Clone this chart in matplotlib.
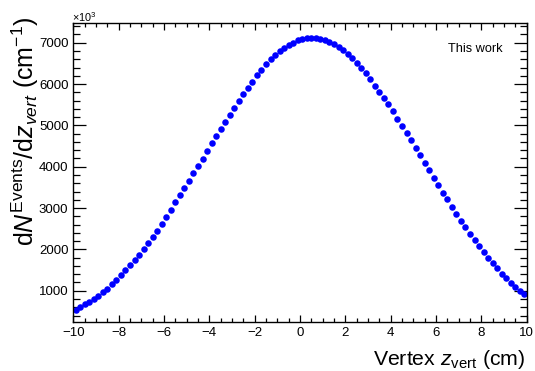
import numpy as np
import matplotlib
matplotlib.use("Agg")
import matplotlib.pyplot as plt
from matplotlib.ticker import MultipleLocator

plt.rcParams['font.family'] = ['Liberation Sans', 'DejaVu Sans']
plt.rcParams['mathtext.fontset'] = 'custom'
plt.rcParams['mathtext.rm'] = 'Liberation Sans'
plt.rcParams['mathtext.it'] = 'Liberation Sans:italic'
plt.rcParams['mathtext.bf'] = 'Liberation Sans:bold'

# bin centres (cm)
z_vert = [-9.9, -9.7, -9.5, -9.3, -9.1, -8.9, -8.7, -8.5, -8.3, -8.1,
          -7.9, -7.7, -7.5, -7.3, -7.1, -6.9, -6.7, -6.5, -6.3, -6.1,
          -5.9, -5.7, -5.5, -5.3, -5.1, -4.9, -4.7, -4.5, -4.3, -4.1,
          -3.9, -3.7, -3.5, -3.3, -3.1, -2.9, -2.7, -2.5, -2.3, -2.1,
          -1.9, -1.7, -1.5, -1.3, -1.1, -0.9, -0.7, -0.5, -0.3, -0.1,
          0.1, 0.3, 0.5, 0.7, 0.9, 1.1, 1.3, 1.5, 1.7, 1.9,
          2.1, 2.3, 2.5, 2.7, 2.9, 3.1, 3.3, 3.5, 3.7, 3.9,
          4.1, 4.3, 4.5, 4.7, 4.9, 5.1, 5.3, 5.5, 5.7, 5.9,
          6.1, 6.3, 6.5, 6.7, 6.9, 7.1, 7.3, 7.5, 7.7, 7.9,
          8.1, 8.3, 8.5, 8.7, 8.9, 9.1, 9.3, 9.5, 9.7, 9.9]

# dN/dz values (x10^3 per cm)
dN_dz = [545, 605, 667, 730, 805, 878, 965, 1050, 1158, 1262,
         1368, 1490, 1610, 1738, 1872, 2018, 2160, 2302, 2450, 2620,
         2790, 2958, 3138, 3307, 3490, 3655, 3845, 4015, 4190, 4376,
         4563, 4745, 4918, 5093, 5258, 5425, 5597, 5758, 5908, 6058,
         6212, 6343, 6480, 6595, 6710, 6800, 6880, 6950, 7005, 7055,
         7090, 7110, 7120, 7115, 7100, 7065, 7020, 6965, 6900, 6812,
         6718, 6630, 6520, 6393, 6265, 6112, 5960, 5815, 5670, 5518,
         5345, 5163, 4993, 4815, 4635, 4455, 4275, 4092, 3915, 3730,
         3550, 3375, 3208, 3035, 2865, 2698, 2532, 2373, 2218, 2072,
         1932, 1797, 1670, 1538, 1416, 1300, 1192, 1090, 1000, 913]

W, H = 535, 371
fig = plt.figure(figsize=(W / 100, H / 100), dpi=100)
ax = fig.add_axes([73.3 / W, 1 - 321.7 / H, (526.7 - 73.3) / W, (321.7 - 23.3) / H])

ax.plot(z_vert, dN_dz, linestyle='none', marker='o', markersize=4.7,
        color='#0000ff', markeredgewidth=0)

ax.set_xlim(-10, 10)
ax.set_ylim(250, 7470)

ax.xaxis.set_major_locator(MultipleLocator(2))
ax.xaxis.set_minor_locator(MultipleLocator(0.5))
ax.yaxis.set_major_locator(MultipleLocator(1000))
ax.yaxis.set_minor_locator(MultipleLocator(200))

ax.tick_params(axis='both', which='both', direction='in', top=True, right=True,
               width=0.9, colors='black', labelsize=9.5)
ax.tick_params(axis='x', which='major', length=5.0, pad=3.5)
ax.tick_params(axis='x', which='minor', length=2.6)
ax.tick_params(axis='y', which='major', length=9.5, pad=3.5)
ax.tick_params(axis='y', which='minor', length=5.0)
for s in ax.spines.values():
    s.set_linewidth(1.0)

fig.text(72.5 / W, 1 - 22.5 / H, r'$\times$10$^{3}$', fontsize=7.8,
         ha='left', va='baseline')
fig.text(503 / W, 1 - 51.5 / H, 'This work', fontsize=9.2, ha='right', va='baseline')

fig.text(525.5 / W, 1 - 365 / H,
         r'Vertex $\mathit{z}_{\mathrm{vert}}$ (cm)', fontsize=15.3,
         ha='right', va='baseline')
fig.text(9.5 / W, 1 - 17 / H,
         r'd$\mathit{N}^{\mathrm{Events}}$/d$\mathit{z}_{\mathit{vert}}$ (cm$^{-1}$)',
         fontsize=18, rotation=90, ha='right', va='top', rotation_mode='anchor')

fig.savefig('out.png', dpi=100)
